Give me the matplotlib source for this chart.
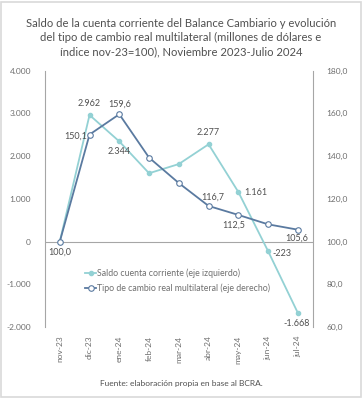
import matplotlib.pyplot as plt
import matplotlib.ticker as mticker

plt.rcParams['font.family'] = ['Lato', 'DejaVu Sans']

meses = ["nov-23", "dic-23", "ene-24", "feb-24", "mar-24", "abr-24", "may-24", "jun-24", "jul-24"]
saldo = [0, 2962, 2344, 1600, 1815, 2277, 1161, -223, -1668]
tcrm = [100.0, 150.1, 159.6, 139.3, 127.4, 116.7, 112.5, 108.1, 105.6]

c_saldo = "#93d1d4"
c_tcrm = "#5a7aa0"
gris = "#6f6f6f"


def miles(v, _):
    return f"{v:,.0f}".replace(",", ".")


def coma(v, _):
    return f"{v:.1f}".replace(".", ",")


fig = plt.figure(figsize=(3.62, 3.99), dpi=100)
ax = fig.add_axes([0.124, 0.18, 0.74, 0.643])
ax2 = ax.twinx()

x = range(len(meses))
l1, = ax.plot(x, saldo, color=c_saldo, lw=1.3, marker="o", ms=3,
              mfc=c_saldo, mec=c_saldo, zorder=3)
l2, = ax2.plot(x, tcrm, color=c_tcrm, lw=1.3, marker="o", ms=4,
               mfc="white", mec=c_tcrm, mew=0.8, zorder=3)

ax.set_xlim(-0.5, len(meses) - 0.5)
ax.set_ylim(-2000, 4000)
ax2.set_ylim(60, 180)
ax.yaxis.set_major_locator(mticker.MultipleLocator(1000))
ax2.yaxis.set_major_locator(mticker.MultipleLocator(20))
ax.yaxis.set_major_formatter(mticker.FuncFormatter(miles))
ax2.yaxis.set_major_formatter(mticker.FuncFormatter(coma))

ax.axhline(0, color="#a6a6a6", lw=0.8, zorder=1)
for a in (ax, ax2):
    for s in ("top", "bottom"):
        a.spines[s].set_visible(False)
    a.spines["left"].set_color("#a6a6a6")
    a.spines["right"].set_color("#a6a6a6")
    a.tick_params(axis="y", length=0, labelsize=6, labelcolor=gris, pad=10)
ax.spines["right"].set_visible(False)
ax2.spines["left"].set_visible(False)

ax.set_xticks(list(x))
ax.set_xticklabels(meses, rotation=90, fontsize=6, color=gris)
ax.tick_params(axis="x", length=0, pad=6)

# etiquetas de datos
fs = 6.5
lab = dict(fontsize=fs, color="#505050")
ax.annotate("2.962", (1, saldo[1]), xytext=(0, 5), textcoords="offset points", ha="center", va="bottom", **lab)
ax.annotate("2.344", (2, saldo[2]), xytext=(0, -4), textcoords="offset points", ha="center", va="top", **lab)
ax.annotate("2.277", (5, saldo[5]), xytext=(0, 5), textcoords="offset points", ha="center", va="bottom", **lab)
ax.annotate("1.161", (6, saldo[6]), xytext=(4, 0), textcoords="offset points", ha="left", va="center", **lab)
ax.annotate("-223", (7, saldo[7]), xytext=(3, -2), textcoords="offset points", ha="left", va="center", **lab)
ax.annotate("-1.668", (8, saldo[8]), xytext=(-1, -4), textcoords="offset points", ha="center", va="top", **lab)
ax2.annotate("100,0", (0, tcrm[0]), xytext=(0, -4), textcoords="offset points", ha="center", va="top", **lab)
ax2.annotate("150,1", (1, tcrm[1]), xytext=(-2, -1), textcoords="offset points", ha="right", va="center", **lab)
ax2.annotate("159,6", (2, tcrm[2]), xytext=(0, 4), textcoords="offset points", ha="center", va="bottom", **lab)
ax2.annotate("116,7", (5, tcrm[5]), xytext=(3, 3), textcoords="offset points", ha="center", va="bottom", **lab)
ax2.annotate("112,5", (6, tcrm[6]), xytext=(-3, -4), textcoords="offset points", ha="center", va="top", **lab)
ax2.annotate("105,6", (8, tcrm[8]), xytext=(-1, -3), textcoords="offset points", ha="center", va="top", **lab)

fig.legend([l1, l2], ["Saldo cuenta corriente (eje izquierdo)",
                      "Tipo de cambio real multilateral (eje derecho)"],
           loc="upper left", bbox_to_anchor=(0.225, 0.335), frameon=False,
           fontsize=6.3, labelcolor=gris, handlelength=1.3, handletextpad=0.1,
           labelspacing=0.6, borderaxespad=0)

fig.text(0.5, 0.955, "Saldo de la cuenta corriente del Balance Cambiario y evolución\n"
         "del tipo de cambio real multilateral (millones de dólares e\n"
         "índice nov-23=100), Noviembre 2023-Julio 2024",
         ha="center", va="top", fontsize=8.1, color="#505050", linespacing=1.35)
fig.text(0.5, 0.04, "Fuente: elaboración propia en base al BCRA.",
         ha="center", va="center", fontsize=6, color="#505050")

fig.patches.append(plt.Rectangle((0.004, 0.004), 0.992, 0.992, transform=fig.transFigure,
                                 fill=False, ec="#d9d9d9", lw=1.2))

fig.savefig("out.png", dpi=100, facecolor="white")
